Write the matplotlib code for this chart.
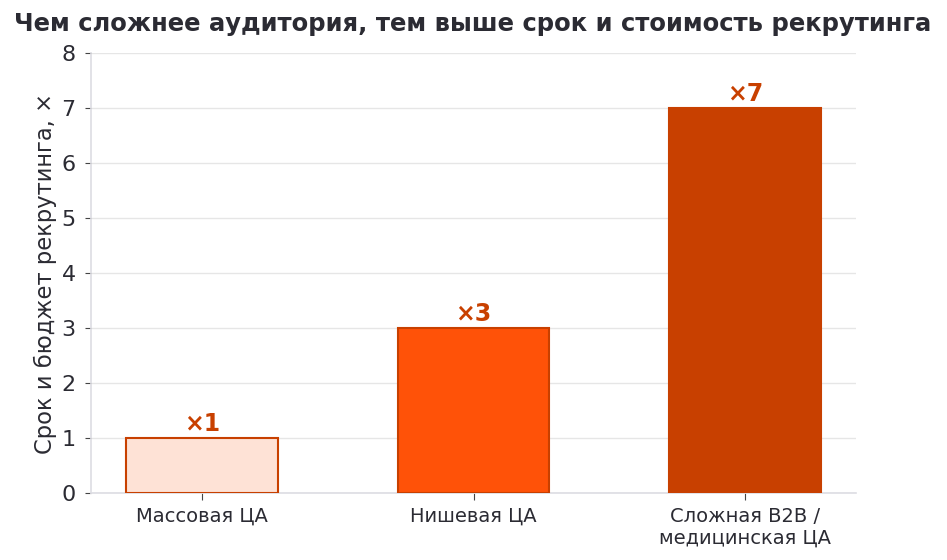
import matplotlib
matplotlib.use("Agg")
import matplotlib.pyplot as plt

categories = ["Массовая ЦА", "Нишевая ЦА", "Сложная B2B /\nмедицинская ЦА"]
values = [1, 3, 7]
labels = ["×1", "×3", "×7"]
colors = ["#FEE2D6", "#FF5208", "#C84000"]
edge = "#C84000"
text_color = "#2B2B33"

plt.rcParams['font.family'] = ['DejaVu Sans']
fig = plt.figure(figsize=(9.47, 5.6), dpi=100)
ax = fig.add_axes([91/947, 1-493/560, (856-91)/947, (493-53)/560])

x = list(range(len(categories)))
ax.bar(x, values, width=0.56, color=colors, edgecolor=edge, linewidth=1.5, zorder=3)
for xi, v, lab in zip(x, values, labels):
    ax.text(xi, v + 0.04, lab, ha="center", va="bottom", fontsize=17,
            fontweight="bold", color=edge, zorder=4)

ax.set_xlim(-0.41, 2.41)
ax.set_ylim(0, 8)
ax.set_yticks(range(0, 9))
ax.set_xticks(x)
ax.set_xticklabels(categories, fontsize=14, color=text_color)
ax.tick_params(axis="y", labelsize=16, labelcolor=text_color, color="#444444", length=4, pad=7)
ax.tick_params(axis="x", color="#444444", length=5, pad=5)
ax.grid(axis="y", color="#E6E6E6", linewidth=1, zorder=0)
ax.set_axisbelow(True)
for s in ["top", "right"]:
    ax.spines[s].set_visible(False)
for s in ["left", "bottom"]:
    ax.spines[s].set_color("#DDDDE3")
    ax.spines[s].set_linewidth(1.2)
ax.set_ylabel("Срок и бюджет рекрутинга, ×", fontsize=16.3, color=text_color, labelpad=3)
fig.text(473/947, 1-24/560, "Чем сложнее аудитория, тем выше срок и стоимость рекрутинга",
         ha="center", va="center", fontsize=17.5, fontweight="bold", color=text_color)

fig.savefig("out.png", dpi=100)
